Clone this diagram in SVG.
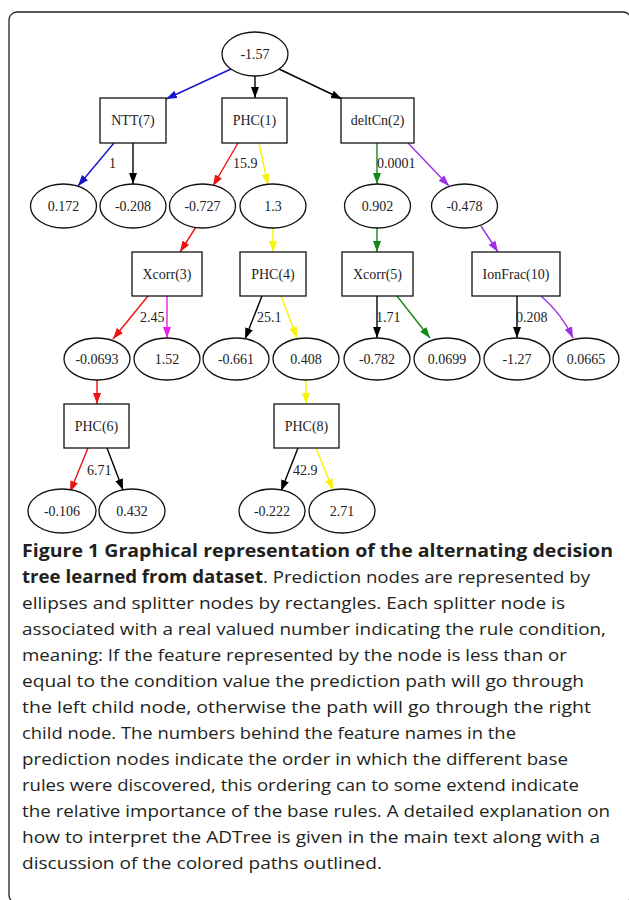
<svg xmlns="http://www.w3.org/2000/svg" width="629" height="900" viewBox="0 0 629 900">
<style>
.n{fill:#fff;stroke:#111;stroke-width:1.3}
.t{font-family:"Liberation Serif","Times New Roman",serif;font-size:14px;fill:#222;text-anchor:middle}
.l{font-family:"Liberation Serif","Times New Roman",serif;font-size:14px;fill:#222}
.e{fill:none;stroke-width:1.4}
.cap{font-family:"Open Sans","Noto Sans",sans-serif;font-size:17px;fill:#231f20}
.b{font-weight:bold}
</style>
<defs>
<marker id="aK" markerUnits="userSpaceOnUse" markerWidth="12" markerHeight="10" refX="11" refY="4.5" orient="auto"><path d="M0,0.5 L11,4.5 L0,8.5z" fill="#000"/></marker>
<marker id="aB" markerUnits="userSpaceOnUse" markerWidth="12" markerHeight="10" refX="11" refY="4.5" orient="auto"><path d="M0,0.5 L11,4.5 L0,8.5z" fill="#1515cc"/></marker>
<marker id="aR" markerUnits="userSpaceOnUse" markerWidth="12" markerHeight="10" refX="11" refY="4.5" orient="auto"><path d="M0,0.5 L11,4.5 L0,8.5z" fill="#ee1111"/></marker>
<marker id="aY" markerUnits="userSpaceOnUse" markerWidth="12" markerHeight="10" refX="11" refY="4.5" orient="auto"><path d="M0,0.5 L11,4.5 L0,8.5z" fill="#f5f500"/></marker>
<marker id="aG" markerUnits="userSpaceOnUse" markerWidth="12" markerHeight="10" refX="11" refY="4.5" orient="auto"><path d="M0,0.5 L11,4.5 L0,8.5z" fill="#16861a"/></marker>
<marker id="aP" markerUnits="userSpaceOnUse" markerWidth="12" markerHeight="10" refX="11" refY="4.5" orient="auto"><path d="M0,0.5 L11,4.5 L0,8.5z" fill="#9b30e8"/></marker>
<marker id="aM" markerUnits="userSpaceOnUse" markerWidth="12" markerHeight="10" refX="11" refY="4.5" orient="auto"><path d="M0,0.5 L11,4.5 L0,8.5z" fill="#e81ee8"/></marker>
</defs>
<rect x="9" y="12" width="622" height="891" rx="8" fill="none" stroke="#222" stroke-width="1.3"/>

<g id="connectors">
<path class="e" stroke="#1515cc" marker-end="url(#aB)" d="M231,69 L166,99"/>
<path class="e" stroke="#000" marker-end="url(#aK)" d="M255,76 L255,98"/>
<path class="e" stroke="#000" marker-end="url(#aK)" d="M279,69 L342,99"/>
<path class="e" stroke="#1515cc" marker-end="url(#aB)" d="M114,143 L78,186"/>
<path class="e" stroke="#000" marker-end="url(#aK)" d="M133,143 L133,184"/>
<path class="e" stroke="#ee1111" marker-end="url(#aR)" d="M238,143 L213,186"/>
<path class="e" stroke="#f5f500" marker-end="url(#aY)" d="M259,143 L268,185"/>
<path class="e" stroke="#16861a" marker-end="url(#aG)" d="M377,143 L377,184"/>
<path class="e" stroke="#9b30e8" marker-end="url(#aP)" d="M408,143 L449,186"/>
<path class="e" stroke="#ee1111" marker-end="url(#aR)" d="M196,227 L180,252"/>
<path class="e" stroke="#f5f500" marker-end="url(#aY)" d="M273,228 L273,252"/>
<path class="e" stroke="#16861a" marker-end="url(#aG)" d="M377,228 L377,252"/>
<path class="e" stroke="#9b30e8" marker-end="url(#aP)" d="M481,226 L498,252"/>
<path class="e" stroke="#ee1111" marker-end="url(#aR)" d="M148,296 L113,339"/>
<path class="e" stroke="#e81ee8" marker-end="url(#aM)" d="M167,296 L167,338"/>
<path class="e" stroke="#000" marker-end="url(#aK)" d="M262,296 L245,339"/>
<path class="e" stroke="#f5f500" marker-end="url(#aY)" d="M281,296 L297,338"/>
<path class="e" stroke="#000" marker-end="url(#aK)" d="M377,296 L377,338"/>
<path class="e" stroke="#16861a" marker-end="url(#aG)" d="M397,296 L430,338"/>
<path class="e" stroke="#000" marker-end="url(#aK)" d="M517,296 L517,338"/>
<path class="e" stroke="#9b30e8" marker-end="url(#aP)" d="M541,296 Q562,314 573,338"/>
<path class="e" stroke="#ee1111" marker-end="url(#aR)" d="M97,380 L97,404"/>
<path class="e" stroke="#f5f500" marker-end="url(#aY)" d="M306,380 L306,404"/>
<path class="e" stroke="#ee1111" marker-end="url(#aR)" d="M88,448 L70,492"/>
<path class="e" stroke="#000" marker-end="url(#aK)" d="M107,448 L123,490"/>
<path class="e" stroke="#000" marker-end="url(#aK)" d="M298,448 L281,491"/>
<path class="e" stroke="#f5f500" marker-end="url(#aY)" d="M316,448 L333,490"/>
<text class="l" x="109" y="168">1</text>
<text class="l" x="233" y="168">15.9</text>
<text class="l" x="377" y="168">0.0001</text>
<text class="l" x="140" y="322">2.45</text>
<text class="l" x="257" y="322">25.1</text>
<text class="l" x="376" y="322">1.71</text>
<text class="l" x="516" y="322">0.208</text>
<text class="l" x="87" y="475">6.71</text>
<text class="l" x="293" y="475">42.9</text>
</g>

<g id="root"><ellipse class="n" cx="255" cy="54" rx="33" ry="22"/><text class="t" x="255" y="59">-1.57</text></g>
<g id="ntt7"><rect class="n" x="100" y="98" width="66" height="45"/><text class="t" x="133" y="125">NTT(7)</text></g>
<g id="phc1"><rect class="n" x="222" y="98" width="65" height="45"/><text class="t" x="254.5" y="125">PHC(1)</text></g>
<g id="deltcn2"><rect class="n" x="341" y="98" width="73" height="45"/><text class="t" x="377.5" y="125">deltCn(2)</text></g>

<g id="p0172"><ellipse class="n" cx="63.5" cy="206" rx="33" ry="22"/><text class="t" x="63.5" y="211">0.172</text></g>
<g id="pm0208"><ellipse class="n" cx="133" cy="206" rx="33" ry="22"/><text class="t" x="133" y="211">-0.208</text></g>
<g id="pm0727"><ellipse class="n" cx="202.5" cy="206" rx="33" ry="22"/><text class="t" x="202.5" y="211">-0.727</text></g>
<g id="p13"><ellipse class="n" cx="273" cy="206" rx="33" ry="22"/><text class="t" x="273" y="211">1.3</text></g>
<g id="p0902"><ellipse class="n" cx="377.5" cy="206" rx="33" ry="22"/><text class="t" x="377.5" y="211">0.902</text></g>
<g id="pm0478"><ellipse class="n" cx="464.5" cy="206" rx="33" ry="22"/><text class="t" x="464.5" y="211">-0.478</text></g>

<g id="xcorr3"><rect class="n" x="132" y="252" width="70" height="44"/><text class="t" x="167" y="279">Xcorr(3)</text></g>
<g id="phc4"><rect class="n" x="240" y="252" width="66" height="44"/><text class="t" x="273" y="279">PHC(4)</text></g>
<g id="xcorr5"><rect class="n" x="342" y="252" width="71" height="44"/><text class="t" x="377.5" y="279">Xcorr(5)</text></g>
<g id="ionfrac10"><rect class="n" x="472" y="252" width="88" height="44"/><text class="t" x="516" y="279">IonFrac(10)</text></g>

<g id="pm00693"><ellipse class="n" cx="97" cy="359" rx="33" ry="21"/><text class="t" x="97" y="364">-0.0693</text></g>
<g id="p152"><ellipse class="n" cx="167" cy="359" rx="33" ry="21"/><text class="t" x="167" y="364">1.52</text></g>
<g id="pm0661"><ellipse class="n" cx="236" cy="359" rx="33" ry="21"/><text class="t" x="236" y="364">-0.661</text></g>
<g id="p0408"><ellipse class="n" cx="306" cy="359" rx="33" ry="21"/><text class="t" x="306" y="364">0.408</text></g>
<g id="pm0782"><ellipse class="n" cx="377" cy="359" rx="33" ry="21"/><text class="t" x="377" y="364">-0.782</text></g>
<g id="p00699"><ellipse class="n" cx="447" cy="359" rx="33" ry="21"/><text class="t" x="447" y="364">0.0699</text></g>
<g id="pm127"><ellipse class="n" cx="517" cy="359" rx="33" ry="21"/><text class="t" x="517" y="364">-1.27</text></g>
<g id="p00665"><ellipse class="n" cx="586" cy="359" rx="33" ry="21"/><text class="t" x="586" y="364">0.0665</text></g>

<g id="phc6"><rect class="n" x="64" y="404" width="65" height="44"/><text class="t" x="96.5" y="431">PHC(6)</text></g>
<g id="phc8"><rect class="n" x="274" y="404" width="65" height="44"/><text class="t" x="306.5" y="431">PHC(8)</text></g>

<g id="pm0106"><ellipse class="n" cx="62" cy="511" rx="34" ry="22"/><text class="t" x="62" y="516">-0.106</text></g>
<g id="p0432"><ellipse class="n" cx="132" cy="511" rx="33" ry="22"/><text class="t" x="132" y="516">0.432</text></g>
<g id="pm0222"><ellipse class="n" cx="272" cy="511" rx="33" ry="22"/><text class="t" x="272" y="516">-0.222</text></g>
<g id="p271"><ellipse class="n" cx="342" cy="511" rx="33" ry="22"/><text class="t" x="342" y="516">2.71</text></g>

<g id="caption" class="cap">
<text x="22" y="557" textLength="591" lengthAdjust="spacingAndGlyphs" class="b">Figure 1 Graphical representation of the alternating decision</text>
<text x="22" y="583" textLength="568" lengthAdjust="spacingAndGlyphs"><tspan class="b">tree learned from dataset</tspan>. Prediction nodes are represented by</text>
<text x="22" y="609" textLength="543" lengthAdjust="spacingAndGlyphs">ellipses and splitter nodes by rectangles. Each splitter node is</text>
<text x="22" y="635" textLength="584" lengthAdjust="spacingAndGlyphs">associated with a real valued number indicating the rule condition,</text>
<text x="22" y="661" textLength="545" lengthAdjust="spacingAndGlyphs">meaning: If the feature represented by the node is less than or</text>
<text x="22" y="687" textLength="562" lengthAdjust="spacingAndGlyphs">equal to the condition value the prediction path will go through</text>
<text x="22" y="713" textLength="569" lengthAdjust="spacingAndGlyphs">the left child node, otherwise the path will go through the right</text>
<text x="22" y="739" textLength="494" lengthAdjust="spacingAndGlyphs">child node. The numbers behind the feature names in the</text>
<text x="22" y="765" textLength="546" lengthAdjust="spacingAndGlyphs">prediction nodes indicate the order in which the different base</text>
<text x="22" y="791" textLength="557" lengthAdjust="spacingAndGlyphs">rules were discovered, this ordering can to some extend indicate</text>
<text x="22" y="817" textLength="588" lengthAdjust="spacingAndGlyphs">the relative importance of the base rules. A detailed explanation on</text>
<text x="22" y="843" textLength="578" lengthAdjust="spacingAndGlyphs">how to interpret the ADTree is given in the main text along with a</text>
<text x="22" y="869" textLength="360" lengthAdjust="spacingAndGlyphs">discussion of the colored paths outlined.</text>
</g>
</svg>
